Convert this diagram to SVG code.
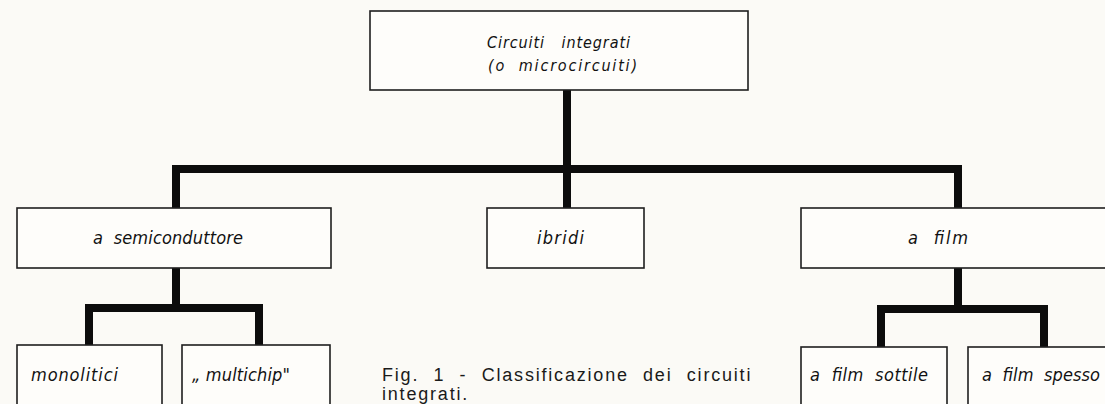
<svg xmlns="http://www.w3.org/2000/svg" width="1105" height="404" viewBox="0 0 1105 404">
<style>
.bg{fill:#fbfaf6}
.box{fill:#fefdfa;stroke:#1e1e1e;stroke-width:1.6}
.lbl{font-family:"DejaVu Sans Condensed","DejaVu Sans",sans-serif;font-stretch:condensed;font-style:italic;font-size:18px;fill:#111;white-space:pre}
.top{font-size:16px}
.con{fill:none;stroke:#0c0c0c;stroke-width:8;stroke-linejoin:miter;stroke-linecap:butt}
.cap{font-family:"Liberation Sans",Arial,sans-serif;font-size:18px;letter-spacing:1.8px;word-spacing:7.5px;fill:#1a1a1a}
</style>
<rect class="bg" x="0" y="0" width="1105" height="404"/>
<g id="connectors">
<path class="con" d="M567,90 V208"/>
<path class="con" d="M176,208 V169 H958 V208"/>
<path class="con" d="M176,268 V308"/>
<path class="con" d="M89,345 V308 H259 V345"/>
<path class="con" d="M958,268 V309"/>
<path class="con" d="M881,347 V309 H1044 V347"/>
</g>
<g id="root">
<rect class="box" x="370" y="11" width="378" height="79"/>
<text class="lbl top" x="487" y="48" xml:space="preserve" textLength="143" lengthAdjust="spacing">Circuiti   integrati</text>
<text class="lbl top" x="488" y="71" xml:space="preserve" textLength="149" lengthAdjust="spacing">(o  microcircuiti)</text>
</g>
<g id="semiconduttore">
<rect class="box" x="17" y="208" width="314" height="60"/>
<text class="lbl" x="93" y="244" xml:space="preserve" textLength="150" lengthAdjust="spacing">a  semiconduttore</text>
</g>
<g id="ibridi">
<rect class="box" x="487" y="208" width="157" height="60"/>
<text class="lbl" x="537" y="244" textLength="47" lengthAdjust="spacing">ibridi</text>
</g>
<g id="film">
<rect class="box" x="801" y="208" width="320" height="60"/>
<text class="lbl" x="908" y="244" xml:space="preserve" textLength="60" lengthAdjust="spacing">a  film</text>
</g>
<g id="monolitici">
<rect class="box" x="17" y="345" width="145" height="70"/>
<text class="lbl" x="31" y="381" textLength="87" lengthAdjust="spacing">monolitici</text>
</g>
<g id="multichip">
<rect class="box" x="182" y="345" width="148" height="70"/>
<text class="lbl" x="192" y="381" textLength="98" lengthAdjust="spacing">„ multichip"</text>
</g>
<g id="film-sottile">
<rect class="box" x="801" y="347" width="146" height="70"/>
<text class="lbl" x="810" y="381" xml:space="preserve" textLength="118" lengthAdjust="spacing">a  film  sottile</text>
</g>
<g id="film-spesso">
<rect class="box" x="968" y="347" width="150" height="70"/>
<text class="lbl" x="982" y="381" xml:space="preserve" textLength="118" lengthAdjust="spacing">a  film  spesso</text>
</g>
<g id="caption">
<text class="cap" x="382" y="381">Fig. 1 - Classificazione dei circuiti</text>
<text class="cap" x="382" y="400">integrati.</text>
</g>
</svg>
